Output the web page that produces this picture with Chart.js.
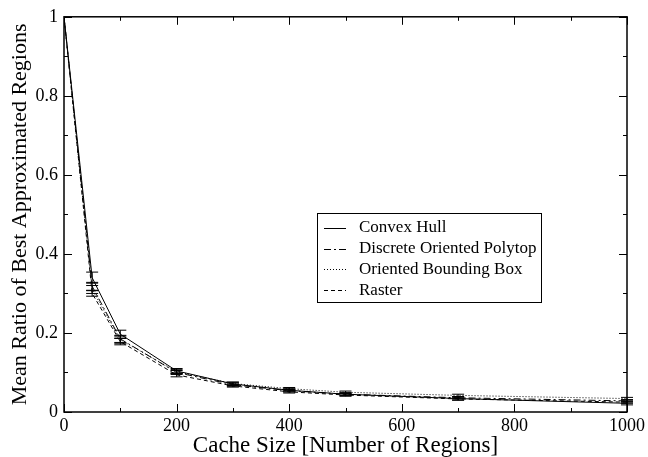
<!DOCTYPE html>
<html>
<head>
<meta charset="utf-8">
<script src="https://cdn.jsdelivr.net/npm/chart.js@4.4.0/dist/chart.umd.min.js"></script>
<style>
    html, body { margin: 0; padding: 0; background: #fff; }
    #wrap { width: 648px; height: 457px; }
</style>
</head>
<body>
<div id="wrap"><canvas id="popChart" width="648" height="457"></canvas></div>
<script>
// cache sizes (x)
let cacheSizes = [0, 50, 100, 200, 300, 400, 500, 700, 1000]

// mean ratio per method
let convexHull = [1, 0.340, 0.197, 0.104, 0.071, 0.055, 0.045, 0.034, 0.022]
let discretePolytop = [1, 0.318, 0.185, 0.100, 0.069, 0.054, 0.045, 0.036, 0.028]
let orientedBox = [1, 0.310, 0.183, 0.102, 0.072, 0.059, 0.050, 0.042, 0.034]
let raster = [1, 0.300, 0.178, 0.094, 0.066, 0.051, 0.043, 0.033, 0.025]

// error bar half heights
let convexHullErr = [0, 0.014, 0.010, 0.006, 0.004, 0.004, 0.004, 0.004, 0.004]
let discretePolytopErr = [0, 0.010, 0.009, 0.005, 0.004, 0.003, 0.003, 0.003, 0.003]
let orientedBoxErr = [0, 0.010, 0.009, 0.005, 0.004, 0.003, 0.003, 0.003, 0.003]
let rasterErr = [0, 0.007, 0.008, 0.005, 0.003, 0.003, 0.003, 0.003, 0.003]

let seriesNames = ['Convex Hull', 'Discrete Oriented Polytop', 'Oriented Bounding Box', 'Raster']

// tick positions
let xMajor = [0, 200, 400, 600, 800, 1000]
let xMinor = [100, 300, 500, 700, 900]
let yMajor = [0, 0.2, 0.4, 0.6, 0.8, 1]
let yMinor = [0.1, 0.3, 0.5, 0.7, 0.9]

const FONT = '"Liberation Serif", "DejaVu Serif", serif'
const dashes = [[], [7, 3, 2, 3], [1, 2], [4, 3]]

function makeSet(i, vals, errs) {
    return {
        label: seriesNames[i],
        data: cacheSizes.map((x, k) => ({ x: x, y: vals[k] })),
        errors: errs,
        borderColor: '#000',
        borderWidth: 1,
        borderDash: dashes[i],
        pointRadius: 0,
        tension: 0,
        fill: false
    }
}

const frameAndExtras = {
    id: 'frameAndExtras',
    afterDatasetsDraw(chart) {
        const ctx = chart.ctx
        const xs = chart.scales.x
        const ys = chart.scales.y
        const a = chart.chartArea
        ctx.save()

        // error bars
        ctx.strokeStyle = '#000'
        ctx.lineWidth = 1
        ctx.setLineDash([])
        chart.data.datasets.forEach(ds => {
            ds.data.forEach((p, k) => {
                let e = ds.errors[k]
                if (!e) return
                let px = xs.getPixelForValue(p.x)
                let top = ys.getPixelForValue(p.y + e)
                let bot = ys.getPixelForValue(p.y - e)
                ctx.beginPath()
                ctx.moveTo(px, top); ctx.lineTo(px, bot)
                ctx.moveTo(px - 6, top); ctx.lineTo(px + 6, top)
                ctx.moveTo(px - 6, bot); ctx.lineTo(px + 6, bot)
                ctx.stroke()
            })
        })

        // inward ticks on all four sides
        ctx.lineWidth = 1
        const tick = (x1, y1, x2, y2) => {
            ctx.beginPath(); ctx.moveTo(x1, y1); ctx.lineTo(x2, y2); ctx.stroke()
        }
        xMajor.forEach(v => {
            let px = Math.round(xs.getPixelForValue(v)) + 0.5
            tick(px, a.bottom, px, a.bottom - 8)
            tick(px, a.top, px, a.top + 8)
        })
        xMinor.forEach(v => {
            let px = Math.round(xs.getPixelForValue(v)) + 0.5
            tick(px, a.bottom, px, a.bottom - 4)
            tick(px, a.top, px, a.top + 4)
        })
        yMajor.forEach(v => {
            let py = Math.round(ys.getPixelForValue(v)) + 0.5
            tick(a.left, py, a.left + 8, py)
            tick(a.right, py, a.right - 8, py)
        })
        yMinor.forEach(v => {
            let py = Math.round(ys.getPixelForValue(v)) + 0.5
            tick(a.left, py, a.left + 4, py)
            tick(a.right, py, a.right - 4, py)
        })

        // frame
        ctx.lineWidth = 1.5
        ctx.strokeRect(a.left, a.top, a.right - a.left, a.bottom - a.top)

        // legend box
        const lx = 317, ly = 213, lw = 224, lh = 89
        ctx.fillStyle = '#fff'
        ctx.fillRect(lx, ly, lw, lh)
        ctx.lineWidth = 1
        ctx.strokeRect(lx + 0.5, ly + 0.5, lw, lh)
        ctx.font = '17px ' + FONT
        ctx.textBaseline = 'middle'
        ctx.fillStyle = '#000'
        chart.data.datasets.forEach((ds, i) => {
            let ry = ly + 15 + i * 20.7
            ctx.setLineDash(ds.borderDash)
            ctx.beginPath()
            ctx.moveTo(lx + 7, Math.round(ry) + 0.5)
            ctx.lineTo(lx + 29, Math.round(ry) + 0.5)
            ctx.stroke()
            ctx.setLineDash([])
            ctx.fillText(ds.label, lx + 42, ry)
        })
        ctx.restore()
    }
}

const config = {
    type: 'line',
    data: {
        datasets: [
            makeSet(0, convexHull, convexHullErr),
            makeSet(1, discretePolytop, discretePolytopErr),
            makeSet(2, orientedBox, orientedBoxErr),
            makeSet(3, raster, rasterErr)
        ]
    },
    options: {
        animation: { duration: 0 },
        responsive: false,
        layout: { padding: { top: 16, right: 19, left: 0, bottom: 0 } },
        plugins: {
            legend: { display: false },
            tooltip: { enabled: false }
        },
        scales: {
            x: {
                type: 'linear',
                min: 0,
                max: 1000,
                afterFit: s => { s.height = 45 },
                grid: { display: false, drawTicks: false },
                border: { display: false },
                ticks: {
                    stepSize: 200,
                    maxRotation: 0,
                    autoSkip: false,
                    padding: 3,
                    color: '#000',
                    font: { family: FONT, size: 18 },
                    callback: v => String(v)
                },
                title: {
                    display: true,
                    text: 'Cache Size [Number of Regions]',
                    color: '#000',
                    padding: { top: 0, bottom: 0 },
                    font: { family: FONT, size: 23, lineHeight: 1 }
                }
            },
            y: {
                type: 'linear',
                min: 0,
                max: 1,
                afterFit: s => { s.width = 64 },
                grid: { display: false, drawTicks: false },
                border: { display: false },
                ticks: {
                    stepSize: 0.2,
                    padding: 6,
                    color: '#000',
                    font: { family: FONT, size: 18 },
                    callback: v => String(Math.round(v * 10) / 10)
                },
                title: {
                    display: true,
                    text: 'Mean Ratio of Best Approximated Regions',
                    color: '#000',
                    padding: { top: 9, bottom: 0 },
                    font: { family: FONT, size: 22, lineHeight: 1 }
                }
            }
        }
    },
    plugins: [frameAndExtras]
}

new Chart(document.getElementById('popChart').getContext('2d'), config)
</script>
</body>
</html>
